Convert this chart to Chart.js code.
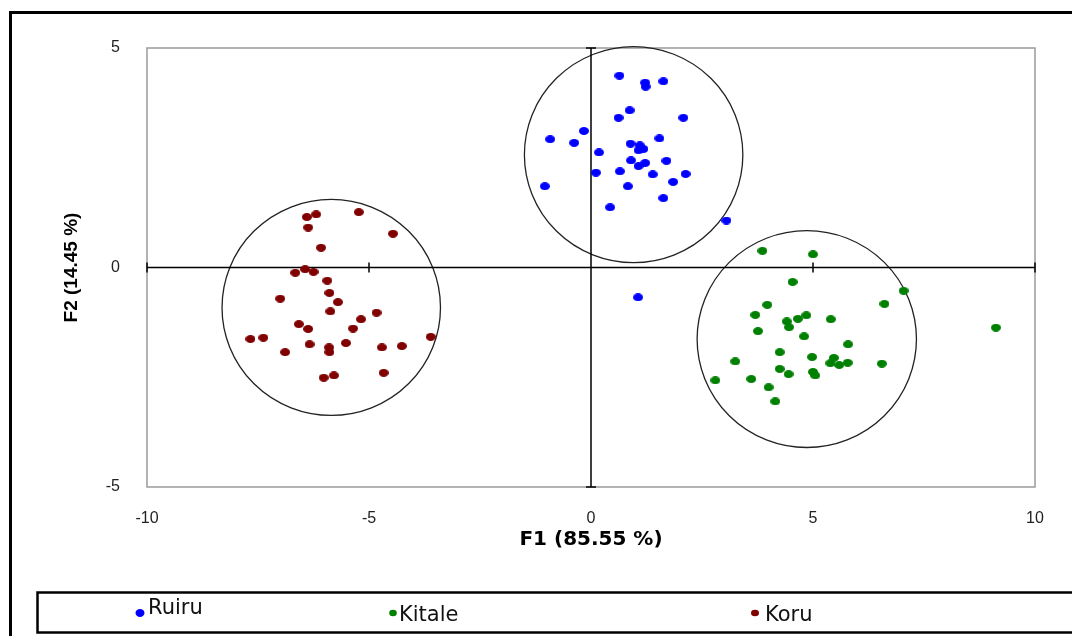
<!DOCTYPE html>
<html>
<head>
<meta charset="utf-8">
<title>PCA scores F1 / F2</title>
<script src="https://cdn.jsdelivr.net/npm/chart.js@4.4.1/dist/chart.umd.min.js"></script>
<style>
  html, body { margin: 0; padding: 0; background: #fff; }
  #wrap { position: relative; width: 1072px; height: 636px; overflow: hidden; }
</style>
</head>
<body>
<div id="wrap"><canvas id="c" width="1072" height="636"></canvas></div>
<script>
// ---- data ----------------------------------------------------------------
const seriesNames = ['Ruiru', 'Kitale', 'Koru'];

const ruiruF1 = [0.64, 1.22, 1.23, 1.63, 0.87, 0.62, 2.08, -0.16, -0.92, -0.38, 1.54, 0.89, 1.10, 1.18, 1.07, 0.18,
                 0.90, 1.22, 1.07, 1.70, 0.11, 0.65, 1.39, 2.13, 1.85, 0.83, -1.04, 1.63, 0.43, 3.05, 1.06];
const ruiruF2 = [4.37, 4.21, 4.12, 4.24, 3.58, 3.41, 3.41, 3.11, 2.92, 2.84, 2.94, 2.82, 2.78, 2.70, 2.67, 2.62,
                 2.44, 2.38, 2.31, 2.43, 2.16, 2.19, 2.12, 2.13, 1.95, 1.85, 1.85, 1.58, 1.37, 1.07, -0.68];

const kitaleF1 = [3.86, 5.00, 4.54, 7.04, 6.61, 3.97, 3.70, 4.85, 4.66, 4.41, 5.40, 4.46, 3.76, 4.80, 9.12, 5.79,
                  4.25, 4.98, 5.47, 3.25, 5.39, 5.59, 5.78, 6.55, 4.25, 4.45, 5.00, 5.05, 2.80, 3.61, 4.00, 4.15];
const kitaleF2 = [0.38, 0.30, -0.33, -0.53, -0.83, -0.85, -1.08, -1.09, -1.17, -1.23, -1.18, -1.36, -1.45, -1.57, -1.37, -1.75,
                  -1.93, -2.04, -2.06, -2.14, -2.18, -2.22, -2.17, -2.19, -2.31, -2.43, -2.38, -2.46, -2.57, -2.54, -2.73, -3.05];

const koruF1 = [-6.40, -6.19, -5.23, -6.37, -4.46, -6.08, -6.66, -6.44, -6.25, -5.94, -5.89, -7.00, -5.70, -5.87, -4.83, -5.18,
                -6.58, -6.37, -5.36, -7.67, -7.38, -3.61, -6.34, -5.52, -5.90, -5.89, -4.71, -4.26, -6.89, -6.02, -5.79, -4.67];
const koruF2 = [1.15, 1.21, 1.26, 0.91, 0.77, 0.45, -0.12, -0.04, -0.10, -0.30, -0.58, -0.71, -0.79, -1.00, -1.03, -1.18,
                -1.29, -1.40, -1.39, -1.63, -1.60, -1.58, -1.75, -1.72, -1.82, -1.93, -1.82, -1.79, -1.93, -2.51, -2.46, -2.40];

// group circles (centre and radius in axis units), order: Ruiru, Kitale, Koru
const circleF1 = [0.96, 4.86, -5.85];
const circleF2 = [2.57, -1.63, -0.91];
const circleRadius = [2.46, 2.47, 2.46];

const xTickValues = [-10, -5, 0, 5, 10];
const yTickValues = [-5, 0, 5];

// ---- styling ---------------------------------------------------------------
const colors = ['#0000ff', '#008000', '#800000'];

function dotImage(color, w, h) {
  const cv = document.createElement('canvas');
  cv.width = w; cv.height = h;
  const g = cv.getContext('2d');
  g.fillStyle = color;
  g.beginPath();
  g.ellipse(w / 2, h / 2, w / 2, h / 2, 0, 0, Math.PI * 2);
  g.fill();
  return cv;
}

function pairs(xs, ys) {
  return xs.map((v, i) => ({ x: v, y: ys[i] }));
}

const seriesPoints = [pairs(ruiruF1, ruiruF2), pairs(kitaleF1, kitaleF2), pairs(koruF1, koruF2)];

// legend layout: dot centre, text start, text baseline
const legendLayout = [
  { dx: 140, dy: 613, rx: 4.5, ry: 4, tx: 148, ty: 614 },
  { dx: 393, dy: 613, rx: 3.8, ry: 3.3, tx: 399, ty: 621 },
  { dx: 755, dy: 613, rx: 4, ry: 3.3, tx: 765, ty: 621 }
];

// frame, circles, origin axes and legend drawn on the chart canvas
const decorations = {
  id: 'decorations',
  beforeDatasetsDraw(chart) {
    const { ctx, chartArea: a, scales: { x, y } } = chart;
    ctx.save();
    // plot area border
    ctx.strokeStyle = '#9a9a9a';
    ctx.lineWidth = 1.5;
    ctx.strokeRect(a.left, a.top, a.right - a.left, a.bottom - a.top);

    // group circles
    ctx.strokeStyle = '#222';
    ctx.lineWidth = 1.3;
    for (let i = 0; i < circleF1.length; i++) {
      const px = x.getPixelForValue(circleF1[i]);
      const py = y.getPixelForValue(circleF2[i]);
      const rx = Math.abs(x.getPixelForValue(circleF1[i] + circleRadius[i]) - px);
      const ry = Math.abs(y.getPixelForValue(circleF2[i] + circleRadius[i]) - py);
      ctx.beginPath();
      ctx.ellipse(px, py, rx, ry, 0, 0, Math.PI * 2);
      ctx.stroke();
    }

    // axes through the origin with their tick marks
    const x0 = x.getPixelForValue(0);
    const y0 = y.getPixelForValue(0);
    ctx.strokeStyle = '#000';
    ctx.lineWidth = 1.5;
    ctx.beginPath();
    ctx.moveTo(x0, a.top); ctx.lineTo(x0, a.bottom);
    ctx.moveTo(a.left, y0); ctx.lineTo(a.right, y0);
    xTickValues.forEach(v => {
      const px = x.getPixelForValue(v);
      ctx.moveTo(px, y0 - 5); ctx.lineTo(px, y0 + 5);
    });
    yTickValues.forEach(v => {
      const py = y.getPixelForValue(v);
      ctx.moveTo(x0 - 5, py); ctx.lineTo(x0 + 5, py);
    });
    ctx.stroke();
    ctx.restore();
  },
  afterDraw(chart) {
    const { ctx } = chart;
    ctx.save();
    // outer frame (left and top edges)
    ctx.strokeStyle = '#000';
    ctx.lineWidth = 3;
    ctx.beginPath();
    ctx.moveTo(10.5, 636); ctx.lineTo(10.5, 12.5); ctx.lineTo(1072, 12.5);
    ctx.stroke();

    // legend box
    ctx.lineWidth = 2.5;
    ctx.strokeRect(37.5, 592.5, 1060, 40);

    // legend entries
    ctx.font = '21px "DejaVu Sans", Verdana, sans-serif';
    ctx.textBaseline = 'alphabetic';
    ctx.textAlign = 'left';
    legendLayout.forEach((l, i) => {
      ctx.fillStyle = colors[i];
      ctx.beginPath();
      ctx.ellipse(l.dx, l.dy, l.rx, l.ry, 0, 0, Math.PI * 2);
      ctx.fill();
      ctx.fillStyle = '#111';
      ctx.fillText(seriesNames[i], l.tx, l.ty);
    });
    ctx.restore();
  }
};

const tickFont = { family: '"Liberation Sans", Arial, sans-serif', size: 16 };

new Chart(document.getElementById('c'), {
  type: 'scatter',
  data: {
    datasets: seriesNames.map((name, i) => ({
      label: name,
      data: seriesPoints[i],
      pointStyle: dotImage(colors[i], 10, 8),
      backgroundColor: colors[i],
      borderColor: colors[i]
    }))
  },
  options: {
    responsive: false,
    animation: false,
    events: [],
    layout: { padding: { left: 0, top: 48, right: 37, bottom: 69 } },
    plugins: { legend: { display: false }, tooltip: { enabled: false } },
    scales: {
      x: {
        type: 'linear', min: -10, max: 10,
        afterFit(s) { s.height = 80; },
        afterBuildTicks(s) { s.ticks = xTickValues.map(v => ({ value: v })); },
        grid: { display: false, drawTicks: false },
        border: { display: false },
        ticks: { padding: 22, color: '#222', font: tickFont },
        title: {
          display: true, text: 'F1 (85.55 %)', color: '#000',
          font: { family: '"DejaVu Sans", Verdana, sans-serif', weight: 'bold', size: 20 },
          padding: { top: 0, bottom: 15 }
        }
      },
      y: {
        type: 'linear', min: -5, max: 5,
        afterFit(s) { s.width = 147; },
        afterBuildTicks(s) { s.ticks = yTickValues.map(v => ({ value: v })); },
        grid: { display: false, drawTicks: false },
        border: { display: false },
        ticks: { padding: 27, color: '#222', font: tickFont },
        title: {
          display: true, text: 'F2 (14.45 %)', color: '#000',
          font: { family: '"Liberation Sans", Arial, sans-serif', weight: 'bold', size: 19 },
          padding: { top: 60, bottom: 0 }
        }
      }
    }
  },
  plugins: [decorations]
});
</script>
</body>
</html>
